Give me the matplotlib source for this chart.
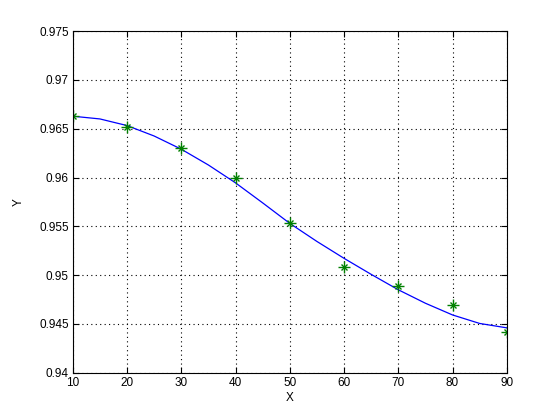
import matplotlib
matplotlib.use("Agg")
import matplotlib.pyplot as plt

# measured points
x_pts = [10, 20, 30, 40, 50, 60, 70, 80, 90]
y_pts = [0.96626, 0.96520, 0.96298, 0.96000, 0.95538, 0.95082, 0.94890, 0.94695, 0.94418]

# fitted curve, every 5 units
x_fit = [10, 15, 20, 25, 30, 35, 40, 45, 50, 55, 60, 65, 70, 75, 80, 85, 90]
y_fit = [0.96628, 0.96600, 0.96532, 0.96425, 0.96290, 0.96128, 0.95945, 0.95740, 0.95530,
         0.95345, 0.95172, 0.95008, 0.94850, 0.94712, 0.94592, 0.94505, 0.94460]

x_ticks = [10, 20, 30, 40, 50, 60, 70, 80, 90]
y_ticks = [0.94, 0.945, 0.95, 0.955, 0.96, 0.965, 0.97, 0.975]
y_ticklabels = ["0.94", "0.945", "0.95", "0.955", "0.96", "0.965", "0.97", "0.975"]

plt.rcParams["font.family"] = ["Liberation Sans", "DejaVu Sans"]

fig = plt.figure(figsize=(5.6, 4.2), dpi=100)
ax = fig.add_axes([0.13, 0.1125, 0.775, 0.8135])
ax.plot(x_fit, y_fit, color="#0000FF", linewidth=0.9)
# matlab style asterisk: plus with a small cross
ax.plot(x_pts, y_pts, linestyle="none", marker="+", markersize=8, markeredgewidth=1.0, color="#008000")
ax.plot(x_pts, y_pts, linestyle="none", marker="x", markersize=4, markeredgewidth=1.0, color="#008000")

ax.set_xlim(10, 90)
ax.set_ylim(0.94, 0.975)
ax.set_xticks(x_ticks)
ax.set_yticks(y_ticks)
ax.set_yticklabels(y_ticklabels)
ax.grid(True, linestyle=(0, (1, 3)), color="black", linewidth=0.8)
ax.tick_params(direction="in", top=True, right=True, labelsize=8.5, length=4, pad=3)
for s in ax.spines.values():
    s.set_linewidth(0.8)
ax.set_xlabel("X", fontsize=8.5, labelpad=2)
ax.set_ylabel("Y", fontsize=8.5, labelpad=10)

fig.savefig("out.png", dpi=100, facecolor="white")
